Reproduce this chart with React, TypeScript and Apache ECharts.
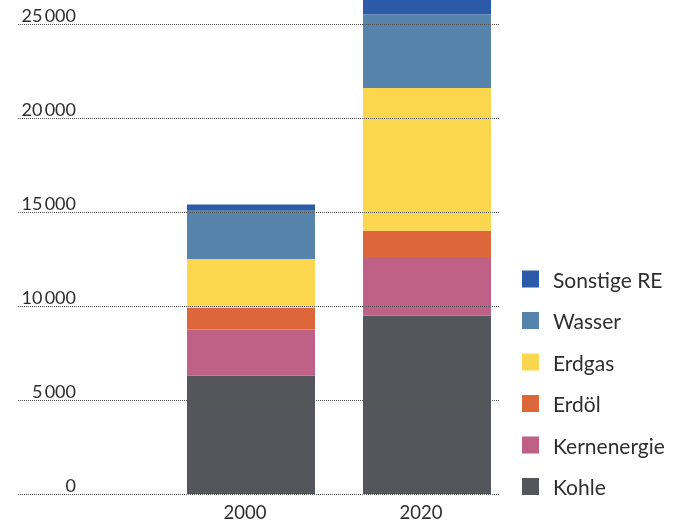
import React, { useEffect, useRef } from 'react';
import * as echarts from 'echarts';

const categories = ['2000', '2020'];
const kohle = [6300, 9500];
const kernenergie = [2450, 3100];
const erdoel = [1150, 1400];
const erdgas = [2600, 7600];
const wasser = [2600, 3900];
const sonstigeRE = [300, 1300];

const seriesNames = ['Kohle', 'Kernenergie', 'Erdöl', 'Erdgas', 'Wasser', 'Sonstige RE'];
const seriesColors = ['#55565b', '#bf6186', '#dd663a', '#fdd650', '#5683ac', '#2a5aa8'];
const legendOrder = ['Sonstige RE', 'Wasser', 'Erdgas', 'Erdöl', 'Kernenergie', 'Kohle'];

const yMin = 0;
const yMax = 26277;
const yInterval = 5000;

const FONT = 'Lato';
const TEXT = '#2e2e2e';

export default function App() {
  const ref = useRef<HTMLDivElement>(null);
  useEffect(() => {
    const chart = echarts.init(ref.current!, null, { renderer: 'svg' });
    const values = [kohle, kernenergie, erdoel, erdgas, wasser, sonstigeRE];
    chart.setOption({
      animation: false,
      grid: [
        { left: 18, right: 180, top: 0, bottom: 28 },
        { left: 163, width: 352, top: 0, bottom: 28 },
      ],
      xAxis: [
        { type: 'category', gridIndex: 0, data: categories, show: false },
        {
          type: 'category',
          gridIndex: 1,
          data: categories,
          axisLine: { show: false },
          axisTick: { show: false },
          axisLabel: {
            fontFamily: FONT,
            fontSize: 18.5,
            lineHeight: 16,
            color: TEXT,
            margin: 10,
            padding: [0, 12, 0, 0],
          },
        },
      ],
      yAxis: [
        {
          type: 'value',
          gridIndex: 0,
          min: yMin,
          max: yMax,
          interval: yInterval,
          z: 10,
          axisLine: { show: false },
          axisTick: { show: false },
          axisLabel: {
            showMaxLabel: false,
            margin: -58,
            verticalAlign: 'bottom',
            fontFamily: FONT,
            fontSize: 18,
            lineHeight: 18,
            color: TEXT,
            formatter: (v: number) => {
              const s = String(Math.round(v));
              return s.length > 3 ? s.slice(0, -3) + '\u2009' + s.slice(-3) : s;
            },
          },
          splitLine: {
            show: true,
            lineStyle: {
              type: 'dotted',
              width: 1,
              color: ['#555', '#555', '#555', '#555', '#555', '#555', 'rgba(0,0,0,0)'],
            },
          },
        },
        {
          type: 'value',
          gridIndex: 1,
          min: yMin,
          max: yMax,
          interval: yInterval,
          show: false,
          splitLine: { show: false },
        },
      ],
      legend: {
        orient: 'vertical',
        left: 522,
        top: 268.5,
        padding: 0,
        itemWidth: 17,
        itemHeight: 17,
        itemGap: 20.5,
        icon: 'rect',
        data: legendOrder,
        textStyle: {
          fontFamily: FONT,
          fontSize: 21,
          lineHeight: 21,
          color: TEXT,
          padding: [0, 0, 0, 9],
        },
      },
      series: seriesNames.map((name, i) => ({
        name,
        type: 'bar',
        stack: 'total',
        xAxisIndex: 1,
        yAxisIndex: 1,
        barWidth: 128,
        clip: true,
        itemStyle: { color: seriesColors[i] },
        data: values[i],
      })),
    });
    return () => chart.dispose();
  }, []);
  return (
    <div
      ref={ref}
      style={{ position: 'fixed', left: 0, top: 0, width: 680, height: 522 }}
    />
  );
}
